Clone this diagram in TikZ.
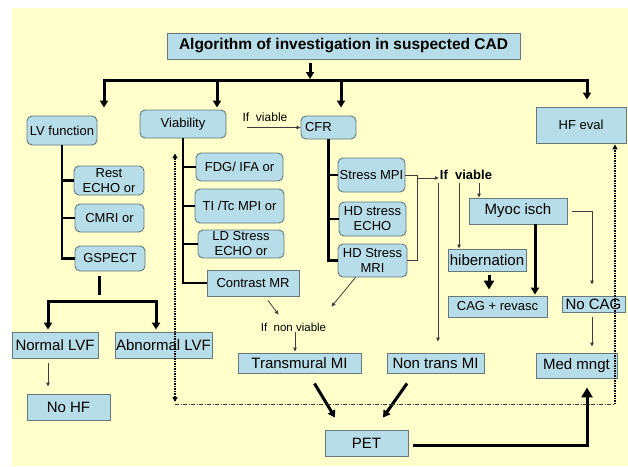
\documentclass[tikz,border=0pt]{standalone}
\usepackage{fontspec}
\setmainfont{Liberation Sans}
\usepackage{tikz}
\usetikzlibrary{
    arrows.meta,
    positioning,
    calc
}
\definecolor{slideyellow}{RGB}{255, 255, 204}
\definecolor{boxblue}{RGB}{183, 221, 232}
\definecolor{boxedge}{RGB}{100, 120, 125}
\definecolor{thingray}{RGB}{60, 60, 60}

\begin{document}
\begin{tikzpicture}[x=1pt, y=-1pt,
    box/.style={draw=boxedge, fill=boxblue, line width=0.9pt, inner sep=0pt, align=center, font=\fontsize{13}{15}\selectfont},
    rbox/.style={box, rounded corners=5pt},
    bigbox/.style={box, font=\fontsize{15}{17}\selectfont},
    trunk/.style={line width=2.5pt},
    bigarr/.style={line width=3pt, -{Triangle[length=7pt,width=8pt]}},
    thinarr/.style={draw=thingray, line width=0.8pt, -{Triangle[length=4pt,width=3.5pt]}},
    thinln/.style={draw=thingray, line width=0.8pt},
    dotln/.style={line width=1.5pt, dash pattern=on 1.5pt off 1pt}]

                % Slide background
                \fill[white] (0,0) rectangle (628,466);
                \fill[slideyellow] (12,8) rectangle (628,466);
                \useasboundingbox (0,0) rectangle (628,466);

                % Title
                \node[box, font=\bfseries\fontsize{15.5}{17}\selectfont, minimum width=353, minimum height=26] (title) at (343.5,46) {Algorithm of investigation in suspected CAD};

                % LV function column
                \node[rbox, minimum width=70, minimum height=29] (lvf) at (62,130.5) {LV function};
                \node[rbox, minimum width=70, minimum height=29] (rest) at (109,180.5) {Rest\\ECHO or};
                \node[rbox, minimum width=69, minimum height=28] (cmri) at (109.5,218) {CMRI or};
                \node[rbox, minimum width=70, minimum height=25] (gsp) at (110,258.5) {GSPECT};
                \node[bigbox, minimum width=86, minimum height=26] (nlvf) at (55,345) {Normal LVF};
                \node[bigbox, minimum width=97, minimum height=26] (alvf) at (163.5,345) {Abnormal LVF};
                \node[bigbox, minimum width=83, minimum height=26] (nohf) at (68.5,407) {No HF};

                % Viability column
                \node[rbox, minimum width=86, minimum height=28] (via) at (183,124) {Viability};
                \node[rbox, minimum width=87, minimum height=28] (fdg) at (239.5,167) {FDG/ IFA or};
                \node[rbox, minimum width=89, minimum height=34] (titc) at (239.5,206) {TI /Tc MPI or};
                \node[rbox, minimum width=86, minimum height=28] (ldse) at (241,244) {LD Stress\\ECHO or};
                \node[box, minimum width=92, minimum height=26] (cmr) at (253,283) {Contrast MR};

                % CFR column
                \node[font=\fontsize{12}{14}\selectfont, inner sep=0pt] (ifv) at (265,117) {If\ \ viable};
                \node[rbox, minimum width=55, minimum height=23, text width=47, align=left] (cfr) at (328.5,127.5) {CFR};
                \node[rbox, minimum width=67, minimum height=34] (smpi) at (371.5,175) {Stress MPI};
                \node[rbox, minimum width=67, minimum height=34] (hdse) at (372.5,219) {HD stress\\ECHO};
                \node[rbox, minimum width=69, minimum height=33] (hdsm) at (372.5,260.5) {HD Stress\\MRI};

                % Infarct outcomes
                \node[font=\fontsize{11.5}{13}\selectfont, inner sep=1pt] (nvia) at (293.5,327) {If\ \ non viable};
                \node[bigbox, minimum width=123, minimum height=20] (tmi) at (299.5,363) {Transmural MI};
                \node[bigbox, minimum width=97, minimum height=20] (ntmi) at (435.5,363) {Non trans MI};
                \node[bigbox, minimum width=83, minimum height=26] (pet) at (366.5,443) {PET};

                % Ischaemia branch
                \node[font=\bfseries\fontsize{13}{15}\selectfont, inner sep=1pt] (iv) at (466,175) {If\ \ viable};
                \node[bigbox, minimum width=98, minimum height=26] (myoc) at (518,211) {Myoc isch};
                \node[bigbox, minimum width=78, minimum height=22] (hib) at (487,260) {hibernation};
                \node[box, minimum width=99, minimum height=21] (cag) at (497.5,306.5) {CAG + revasc};
                \node[bigbox, minimum width=63, minimum height=16] (nocag) at (593.5,304) {No CAG};
                \node[bigbox, minimum width=81, minimum height=25] (med) at (576.5,365.5) {Med mngt};
                \node[box, minimum width=90, minimum height=36] (hfe) at (581,125) {HF eval};

                % Top distribution bar
                \coordinate (tb) at (310,80);
                \coordinate (bl) at (104,80);
                \coordinate (br) at (587,80);
                \coordinate (dv) at (217,80);
                \coordinate (dc) at (341,80);
                \draw[bigarr, shorten <=4pt, shorten >=1pt] (title.south -| tb) -- (tb);
                \draw[bigarr, shorten >=8pt] (tb) -| (bl |- lvf.north);
                \draw[bigarr, shorten >=7pt] (tb) -| (br |- hfe.north);
                \draw[bigarr, shorten >=2pt] (dv) -- (dv |- via.north);
                \draw[bigarr, shorten >=8pt] (dc) -- (dc |- cfr.north);

                % LV function tree
                \draw[trunk] (lvf.south) |- (gsp.west);
                \draw[trunk] (lvf.south |- rest.west) -- (rest.west);
                \draw[trunk] (lvf.south |- cmri.west) -- (cmri.west);

                % Split into normal / abnormal
                \coordinate (split) at (102,301);
                \draw[line width=3pt] ([shift={(-11,5)}]gsp.south) -- ([shift={(-11,24)}]gsp.south);
                \draw[bigarr, shorten >=2pt] (split) -| ([xshift=-7pt]nlvf.north);
                \draw[bigarr, shorten >=2pt] (split) -| ([xshift=-7.5pt]alvf.north);
                \draw[thinarr, shorten <=5pt, shorten >=7pt] ([xshift=-7pt]nlvf.south) -- ([xshift=-7pt]nlvf.south |- nohf.north);

                % Viability tree
                \draw[trunk] (via.south) |- (cmr.west);
                \draw[trunk] (via.south |- fdg.west) -- (fdg.west);
                \draw[trunk] (via.south |- titc.west) -- (titc.west);
                \draw[trunk] (via.south |- ldse.west) -- (ldse.west);
                \draw[thinarr] ([xshift=5pt]ifv.west |- cfr.west) -- (cfr.west);

                % CFR tree
                \draw[trunk] (cfr.south) |- (hdsm.west);
                \draw[trunk] (cfr.south |- smpi.west) -- (smpi.west);
                \draw[trunk] (cfr.south |- hdse.west) -- (hdse.west);

                % Stress tests to "If viable"
                \draw[thinln] (smpi.east) -- ++(12,0) coordinate (sb) |- (hdsm.east);
                \draw[thinarr] ([yshift=-3pt]sb) -- ([yshift=-3pt]sb -| iv.west);
                \draw[thinarr, shorten <=2pt, shorten >=11pt] ([xshift=-28pt]iv.south) -- ([xshift=-28pt]iv.south |- ntmi.north);
                \draw[thinarr, shorten <=2pt] ([xshift=-7pt]iv.south) -- ([xshift=-7pt]iv.south |- hib.north);
                \draw[thinarr, shorten <=2pt] ([xshift=13pt]iv.south) -- ([xshift=13pt]iv.south |- myoc.north);

                % Ischaemia outcomes
                \draw[thinarr, shorten >=11pt] ([xshift=5pt]myoc.east) -| ([xshift=-1.5pt]nocag.north);
                \draw[bigarr, shorten >=1pt] ([xshift=17pt]myoc.south) -- ([xshift=17pt]myoc.south |- cag.north);
                \draw[line width=3pt, -{Triangle[length=9pt,width=10pt]}, shorten <=4pt, shorten >=6pt] ([xshift=2pt]hib.south) -- ([xshift=2pt]hib.south |- cag.north);
                \draw[thinarr, shorten <=5pt, shorten >=6pt] ([xshift=-1.5pt]nocag.south) -- ([xshift=-1.5pt]nocag.south |- med.north);

                % Non viable branch
                \draw[thinarr] ([shift={(15,4)}]cmr.south) -- ([shift={(-15,-7)}]nvia.north);
                \draw[thinarr] ([xshift=-17pt]hdsm.south) -- ([shift={(38,-15)}]nvia.north);
                \draw[thinarr, shorten >=1pt] ([xshift=1.5pt]nvia.south) -- ([xshift=1.5pt]nvia.south |- tmi.north);

                % To PET and on
                \draw[bigarr] ([shift={(15,10)}]tmi.south) -- ([shift={(-31.5,-12)}]pet.north);
                \draw[bigarr] ([shift={(-28.5,10)}]ntmi.south) -- ([shift={(16.5,-12)}]pet.north);
                \draw[line width=3pt, -{Triangle[length=10pt,width=11pt]}, shorten >=9pt] ([shift={(5,2)}]pet.east) -| ([xshift=10.5pt]med.south);

                % Dotted feedback loop
                \coordinate (dl) at (175,404);
                \coordinate (dr) at (615,404);
                \draw[dotln, {Triangle[length=5pt,width=5pt]}-{Triangle[length=5pt,width=5pt]}, shorten <=2pt, shorten >=15pt] (dl) -- (dl |- via.south);
                \draw[thingray, line width=0.6pt, dash pattern=on 4pt off 1.5pt on 1pt off 1.5pt] (dl) -- (dr);
                \draw[dotln, -{Triangle[length=5pt,width=5pt]}, shorten >=1pt] (dr) -- (dr |- hfe.south);
            \end{tikzpicture}
\end{document}
